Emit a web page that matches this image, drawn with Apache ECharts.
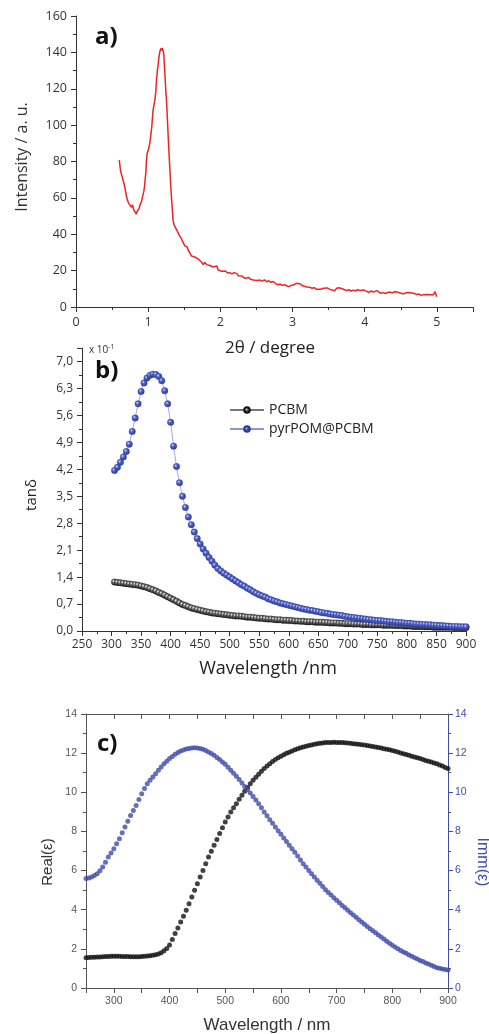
<!DOCTYPE html>
<html>
<head>
<meta charset="utf-8">
<script src="https://cdn.jsdelivr.net/npm/echarts@6/dist/echarts.min.js"></script>
<style>html,body{margin:0;padding:0;background:#fff}#c{width:489px;height:1034px}</style>
</head>
<body>
<div id="c"></div>
<script>
// ---------- Panel a: XRD ----------
var xrdX = [0.60,0.61,0.62,0.635,0.65,0.665,0.675,0.69,0.70,0.715,0.73,0.745,0.755,0.77,0.78,0.79,0.80,0.815,0.825,0.837,0.85,0.862,0.874,0.89,0.907,0.92,0.939,0.95,0.96,0.967,0.975,0.985,1.00,1.022,1.035,1.05,1.06,1.068,1.08,1.092,1.105,1.115,1.125,1.137,1.15,1.161,1.175,1.185,1.195,1.207,1.215,1.221,1.235,1.245,1.254,1.27,1.286,1.30,1.313,1.325,1.337,1.345,1.36,1.38,1.40,1.415,1.43,1.445,1.462,1.48,1.495,1.508,1.525,1.54,1.555,1.57,1.585,1.60,1.62,1.645,1.67,1.69,1.716,1.74,1.762,1.785,1.81,1.831,1.855,1.88,1.90,1.925,1.95,1.97,1.995,2.02,2.04,2.07,2.10,2.13,2.16,2.19,2.225,2.25,2.27,2.30,2.33,2.36,2.39,2.42,2.455,2.48,2.51,2.548,2.58,2.61,2.641,2.67,2.70,2.733,2.76,2.78,2.802,2.83,2.86,2.89,2.918,2.95,2.98,3.01,3.035,3.056,3.08,3.11,3.148,3.17,3.20,3.241,3.27,3.30,3.334,3.36,3.39,3.426,3.45,3.48,3.519,3.55,3.58,3.612,3.64,3.681,3.71,3.75,3.78,3.81,3.842,3.87,3.90,3.935,3.96,3.99,4.028,4.06,4.09,4.12,4.145,4.166,4.19,4.22,4.258,4.29,4.32,4.351,4.38,4.41,4.444,4.47,4.50,4.536,4.56,4.59,4.628,4.65,4.68,4.721,4.75,4.78,4.813,4.84,4.87,4.906,4.93,4.95,4.975,4.985,4.998];
var xrdY = [80.8,77.0,74.3,72.5,69.8,68.0,66.1,63.0,60.6,58.5,57.0,57.8,56.0,54.8,56.2,55.1,53.4,52.4,53.6,51.1,52.8,53.5,54.2,56.5,57.9,60.3,63.4,66.5,71.0,73.5,80.0,84.4,86.0,89.9,94.0,99.1,104.5,108.2,111.0,113.7,118.0,124.7,129.0,133.0,137.5,140.3,142.1,141.0,142.5,142.1,139.5,135.7,126.0,118.0,113.7,100.0,86.3,76.0,66.1,58.8,52.0,47.5,45.1,43.5,42.0,41.0,39.5,38.6,37.4,35.8,35.0,33.6,34.2,33.0,31.2,30.5,29.2,28.0,28.6,27.5,28.3,26.5,25.6,24.6,23.4,24.5,23.3,24.2,22.8,23.0,22.0,21.4,22.6,20.3,20.8,19.6,19.2,19.8,18.7,18.9,18.2,18.9,18.5,17.2,16.5,17.0,16.0,15.8,16.3,15.2,14.9,15.6,14.6,14.8,14.2,14.9,13.9,14.4,13.6,14.0,13.0,12.4,12.1,12.5,11.9,12.3,11.7,11.2,11.9,12.1,12.8,13.0,12.2,12.6,11.5,11.9,11.0,10.8,10.3,10.6,9.7,10.2,9.8,10.3,10.0,10.5,9.7,9.4,8.8,10.3,10.6,10.2,9.6,9.0,9.5,8.7,9.3,8.8,9.5,9.1,8.6,9.3,8.6,8.0,8.8,8.2,7.5,9.0,8.0,7.6,7.9,7.4,8.0,8.2,7.8,8.4,8.3,7.9,7.6,7.3,7.9,8.0,7.8,7.2,7.5,6.9,7.1,6.4,6.8,6.5,6.9,6.8,7.2,6.7,8.4,7.0,5.7];
var xrdTicksX = [0,1,2,3,4,5];

// ---------- Panel b: tan delta (x 10^-1) ----------
var bWavelength = [
 305,310,315,320,325,330,335,340,345,350,
 355,360,365,370,375,380,385,390,395,400,
 405,410,415,420,425,430,435,440,445,450,
 455,460,465,470,475,480,485,490,495,500,
 505,510,515,520,525,530,535,540,545,550,
 555,560,565,570,575,580,585,590,595,600,
 605,610,615,620,625,630,635,640,645,650,
 655,660,665,670,675,680,685,690,695,700,
 705,710,715,720,725,730,735,740,745,750,
 755,760,765,770,775,780,785,790,795,800,
 805,810,815,820,825,830,835,840,845,850,
 855,860,865,870,875,880,885,890,895,900];
var bPCBM = [
 1.27,1.26,1.25,1.24,1.23,1.22,1.21,1.20,1.19,1.17,
 1.15,1.13,1.10,1.07,1.04,1.00,0.97,0.93,0.89,0.85,
 0.81,0.77,0.73,0.69,0.66,0.63,0.60,0.58,0.56,0.54,
 0.52,0.50,0.49,0.47,0.46,0.45,0.44,0.43,0.42,0.41,
 0.40,0.39,0.39,0.38,0.37,0.36,0.36,0.35,0.34,0.33,
 0.33,0.32,0.31,0.31,0.30,0.29,0.29,0.28,0.28,0.27,
 0.27,0.26,0.26,0.25,0.25,0.24,0.24,0.24,0.23,0.23,
 0.23,0.22,0.22,0.21,0.21,0.21,0.20,0.20,0.19,0.19,
 0.19,0.18,0.18,0.18,0.17,0.17,0.17,0.16,0.16,0.16,
 0.16,0.15,0.15,0.15,0.15,0.14,0.14,0.14,0.13,0.13,
 0.13,0.12,0.12,0.12,0.12,0.11,0.11,0.11,0.10,0.10,
 0.10,0.10,0.10,0.10,0.10,0.09,0.09,0.09,0.09,0.09];
var bPyrPOM = [
 4.17,4.25,4.38,4.52,4.66,4.85,5.18,5.53,5.90,6.22,
 6.44,6.57,6.64,6.67,6.66,6.61,6.50,6.24,5.90,5.42,
 4.80,4.27,3.85,3.50,3.21,2.96,2.76,2.57,2.40,2.26,
 2.13,2.02,1.91,1.81,1.71,1.62,1.56,1.50,1.45,1.40,
 1.35,1.30,1.25,1.20,1.16,1.11,1.07,1.02,0.98,0.94,
 0.91,0.88,0.84,0.81,0.78,0.76,0.73,0.71,0.69,0.67,
 0.65,0.63,0.61,0.59,0.57,0.56,0.54,0.53,0.51,0.50,
 0.48,0.47,0.46,0.44,0.43,0.42,0.41,0.40,0.38,0.37,
 0.36,0.35,0.34,0.33,0.32,0.31,0.30,0.29,0.28,0.27,
 0.27,0.26,0.25,0.24,0.24,0.23,0.22,0.22,0.21,0.20,
 0.20,0.19,0.18,0.18,0.17,0.17,0.16,0.16,0.15,0.15,
 0.14,0.14,0.13,0.13,0.12,0.12,0.12,0.11,0.11,0.11];
var bSeriesNames = ['PCBM','pyrPOM@PCBM'];

// ---------- Panel c: permittivity ----------
var cWavelength = [250,
 255,260,265,270,275,280,285,290,295,300,
 305,310,315,320,325,330,335,340,345,350,
 355,360,365,370,375,380,385,390,395,400,
 405,410,415,420,425,430,435,440,445,450,
 455,460,465,470,475,480,485,490,495,500,
 505,510,515,520,525,530,535,540,545,550,
 555,560,565,570,575,580,585,590,595,600,
 605,610,615,620,625,630,635,640,645,650,
 655,660,665,670,675,680,685,690,695,700,
 705,710,715,720,725,730,735,740,745,750,
 755,760,765,770,775,780,785,790,795,800,
 805,810,815,820,825,830,835,840,845,850,
 855,860,865,870,875,880,885,890,895,900];
var cReal = [1.55,
 1.56,1.57,1.57,1.58,1.59,1.60,1.61,1.61,1.62,1.62,
 1.62,1.62,1.61,1.61,1.61,1.60,1.60,1.60,1.60,1.61,
 1.62,1.63,1.65,1.67,1.70,1.74,1.80,1.90,2.02,2.20,
 2.48,2.78,3.07,3.37,3.67,3.97,4.31,4.65,4.99,5.33,
 5.67,6.01,6.35,6.69,6.99,7.29,7.59,7.89,8.19,8.48,
 8.74,8.99,9.21,9.42,9.64,9.85,10.05,10.24,10.43,10.61,
 10.77,10.92,11.07,11.21,11.34,11.46,11.57,11.67,11.76,11.84,
 11.92,11.99,12.05,12.11,12.17,12.22,12.27,12.31,12.35,12.39,
 12.42,12.45,12.48,12.50,12.52,12.54,12.55,12.55,12.56,12.55,
 12.55,12.54,12.53,12.52,12.50,12.48,12.47,12.45,12.43,12.41,
 12.39,12.37,12.34,12.31,12.29,12.26,12.23,12.20,12.17,12.14,
 12.10,12.06,12.01,11.97,11.93,11.89,11.84,11.80,11.76,11.72,
 11.67,11.63,11.59,11.55,11.50,11.46,11.40,11.34,11.27,11.21];
var cImm = [5.59,
 5.62,5.67,5.75,5.84,5.99,6.18,6.43,6.69,6.90,7.12,
 7.37,7.63,7.93,8.23,8.52,8.82,9.07,9.33,9.63,9.93,
 10.19,10.44,10.61,10.78,10.95,11.12,11.29,11.46,11.59,11.72,
 11.83,11.94,12.03,12.11,12.16,12.21,12.24,12.26,12.27,12.26,
 12.24,12.20,12.13,12.06,11.98,11.89,11.78,11.67,11.55,11.43,
 11.28,11.12,10.97,10.82,10.65,10.47,10.30,10.13,9.96,9.79,
 9.61,9.42,9.21,8.99,8.80,8.60,8.42,8.23,8.04,7.85,
 7.67,7.49,7.30,7.12,6.93,6.74,6.54,6.35,6.18,6.01,
 5.84,5.67,5.51,5.35,5.18,5.02,4.88,4.75,4.61,4.48,
 4.35,4.22,4.10,3.97,3.85,3.73,3.61,3.49,3.37,3.26,
 3.14,3.03,2.92,2.82,2.71,2.61,2.50,2.39,2.29,2.18,
 2.09,2.01,1.92,1.84,1.77,1.69,1.62,1.55,1.48,1.41,
 1.35,1.28,1.22,1.16,1.10,1.04,1.01,0.97,0.94,0.92];

function zip(a, b) { var r = []; for (var i = 0; i < a.length && i < b.length; i++) r.push([a[i], b[i]]); return r; }

var chart = echarts.init(document.getElementById('c'), null, {renderer: 'canvas'});
var FONT_A = '"Open Sans", "DejaVu Sans", sans-serif';
var FONT_C = '"Liberation Sans", Arial, sans-serif';
var blueMark = {type:'radial', x:0.38, y:0.35, r:0.7, colorStops:[{offset:0,color:'#dfe4ff'},{offset:0.3,color:'#5566cc'},{offset:1,color:'#26358e'}]};
var blackMark = {type:'radial', x:0.38, y:0.35, r:0.7, colorStops:[{offset:0,color:'#ffffff'},{offset:0.3,color:'#777777'},{offset:1,color:'#000000'}]};
var BLUE = '#3e4ca8';

function commonAxis(color, labelColor, fontSize, font) {
  return {
    axisLine: {show: true, onZero: false, lineStyle: {color: color, width: 1}},
    axisTick: {show: true, length: 5, lineStyle: {color: color}},
    minorTick: {show: true, splitNumber: 2, length: 3, lineStyle: {color: color}},
    splitLine: {show: false},
    axisLabel: {color: labelColor, fontSize: fontSize, fontFamily: font}
  };
}
function ax(base, extra) { var o = JSON.parse(JSON.stringify(base)); for (var k in extra) { if (typeof extra[k] === 'object' && o[k] && !Array.isArray(extra[k])) { for (var j in extra[k]) o[k][j] = extra[k][j]; } else o[k] = extra[k]; } return o; }

var aBase = commonAxis('#333', '#333', 12.5, FONT_A);
var bBase = commonAxis('#333', '#333', 12, FONT_A);
var cBase = commonAxis('#555', '#555', 10.5, FONT_C);
var cBaseBlue = commonAxis(BLUE, BLUE, 10.5, FONT_C);

var option = {
  animation: false,
  backgroundColor: '#fff',
  grid: [
    {left: 76, top: 16, width: 397, height: 291},
    {left: 82, top: 348, width: 384, height: 283},
    {left: 86, top: 714, width: 362, height: 274}
  ],
  xAxis: [
    ax(aBase, {type: 'value', gridIndex: 0, min: 0, max: 5.5, interval: 1,
      axisLabel: {margin: 9, formatter: function (v) { return xrdTicksX.indexOf(v) >= 0 ? String(v) : ''; }}}),
    ax(bBase, {type: 'value', gridIndex: 1, min: 250, max: 900, interval: 50, axisLabel: {margin: 8}}),
    ax(cBase, {type: 'value', gridIndex: 2, min: 250, max: 900, interval: 50,
      minorTick: {show: false},
      axisLabel: {margin: 8, formatter: function (v) { return v % 100 === 0 ? String(v) : ''; }}}),
    ax(cBase, {type: 'value', gridIndex: 2, position: 'top', min: 250, max: 900, interval: 50,
      minorTick: {show: false}, axisTick: {inside: true}, axisLabel: {show: false}})
  ],
  yAxis: [
    ax(aBase, {type: 'value', gridIndex: 0, min: 0, max: 160, interval: 20, axisLabel: {margin: 9}}),
    ax(bBase, {type: 'value', gridIndex: 1, min: 0, max: 7.35, interval: 0.7,
      axisLabel: {margin: 9, formatter: function (v) {
        var k = v / 0.7; if (Math.abs(k - Math.round(k)) > 0.01) return '';
        return v.toFixed(1).replace('.', ','); }}}),
    ax(cBase, {type: 'value', gridIndex: 2, min: 0, max: 14, interval: 2, axisLabel: {margin: 9}}),
    ax(cBaseBlue, {type: 'value', gridIndex: 2, position: 'right', min: 0, max: 14, interval: 2, axisLabel: {margin: 7}})
  ],
  legend: {
    data: bSeriesNames, orient: 'vertical', left: 224, top: 398,
    itemWidth: 34, itemHeight: 7, itemGap: 5,
    textStyle: {fontSize: 14, color: '#222', fontFamily: FONT_A}
  },
  series: [
    {type: 'line', name: 'XRD', xAxisIndex: 0, yAxisIndex: 0, data: zip(xrdX, xrdY),
      showSymbol: false, lineStyle: {color: '#ee2424', width: 1.5}},
    {type: 'line', name: bSeriesNames[0], xAxisIndex: 1, yAxisIndex: 1, data: zip(bWavelength, bPCBM),
      symbol: 'circle', symbolSize: 6.5, showAllSymbol: true,
      lineStyle: {color: '#777', width: 0.8}, itemStyle: {color: blackMark, borderColor: '#111', borderWidth: 0.3}},
    {type: 'line', name: bSeriesNames[1], xAxisIndex: 1, yAxisIndex: 1, data: zip(bWavelength, bPyrPOM),
      symbol: 'circle', symbolSize: 6.5, showAllSymbol: true,
      lineStyle: {color: '#8a96d8', width: 0.8}, itemStyle: {color: blueMark, borderColor: '#2a3890', borderWidth: 0.3}},
    {type: 'scatter', name: 'Real', xAxisIndex: 2, yAxisIndex: 2, data: zip(cWavelength, cReal),
      symbol: 'circle', symbolSize: 5, itemStyle: {color: '#111'}},
    {type: 'scatter', name: 'Imm', xAxisIndex: 2, yAxisIndex: 3, data: zip(cWavelength, cImm),
      symbol: 'circle', symbolSize: 5, itemStyle: {color: BLUE}}
  ],
  graphic: [
    {type: 'text', left: 95, top: 25, style: {text: 'a)', font: 'bold 24px ' + FONT_A, fill: '#111'}},
    {type: 'text', x: 22, y: 157, rotation: Math.PI / 2, style: {text: 'Intensity / a. u.', font: '16px ' + FONT_A, fill: '#333', textAlign: 'center', textVerticalAlign: 'middle'}},
    {type: 'text', x: 270, y: 348, style: {text: '2θ / degree', font: '17px ' + FONT_A, fill: '#222', textAlign: 'center', textVerticalAlign: 'middle'}},
    {type: 'text', x: 89, y: 350, style: {text: '{a|x 10}{b|-1}', fill: '#333', textVerticalAlign: 'middle',
      rich: {a: {fontSize: 10, fontFamily: FONT_A, fill: '#333'}, b: {fontSize: 7, fontFamily: FONT_A, fill: '#333', padding: [0,0,6,0]}}}},
    {type: 'text', left: 95, top: 359, style: {text: 'b)', font: 'bold 24px ' + FONT_A, fill: '#111'}},
    {type: 'text', x: 32, y: 495, rotation: Math.PI / 2, style: {text: 'tanδ', font: '15px ' + FONT_A, fill: '#222', textAlign: 'center', textVerticalAlign: 'middle'}},
    {type: 'text', x: 268, y: 669, style: {text: 'Wavelength /nm', font: '18px ' + FONT_A, fill: '#222', textAlign: 'center', textVerticalAlign: 'middle'}},
    {type: 'text', left: 97, top: 732, style: {text: 'c)', font: 'bold 24px ' + FONT_A, fill: '#111'}},
    {type: 'text', x: 48, y: 862, rotation: Math.PI / 2, style: {text: 'Real(ε)', font: '15px ' + FONT_C, fill: '#333', textAlign: 'center', textVerticalAlign: 'middle'}},
    {type: 'text', x: 482, y: 862, rotation: -Math.PI / 2, style: {text: 'Imm(ε)', font: '16px ' + FONT_C, fill: BLUE, textAlign: 'center', textVerticalAlign: 'middle'}},
    {type: 'text', x: 267, y: 1025, style: {text: 'Wavelength / nm', font: '17px ' + FONT_C, fill: '#333', textAlign: 'center', textVerticalAlign: 'middle'}}
  ]
};
chart.setOption(option);
</script>
</body>
</html>
